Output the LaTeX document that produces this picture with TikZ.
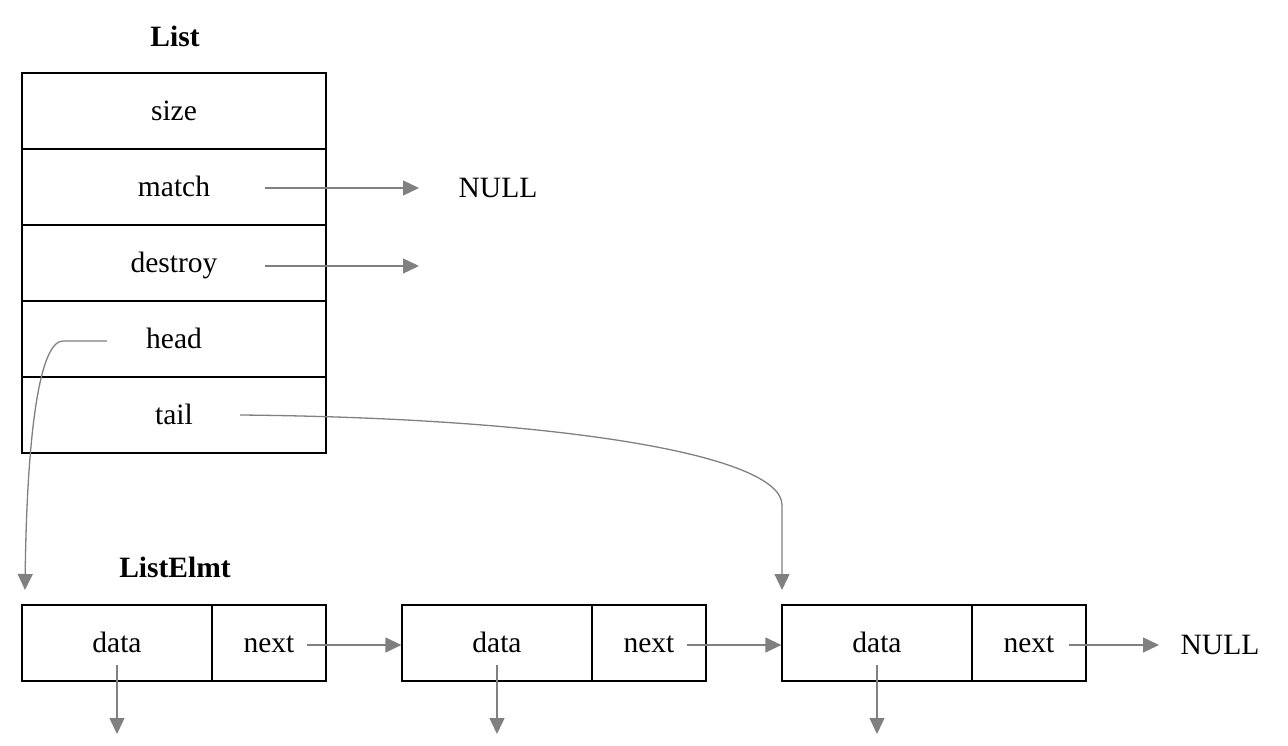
\documentclass[tikz,border=0pt]{standalone}
\usepackage{fontspec}
\setmainfont{Liberation Serif}
\usetikzlibrary{arrows.meta}
\begin{document}
\begin{tikzpicture}[x=1pt,y=-1pt,
  txt/.style={font=\fontsize{29.5}{32}\selectfont,inner sep=0pt,text height=19pt,text depth=0pt},
  ttl/.style={font=\fontsize{29.5}{32}\selectfont\bfseries,inner sep=0pt,text height=19pt,text depth=0pt},
  cell/.style={draw=black,line width=1.3pt,minimum height=76pt,inner sep=0pt,text height=19pt,text depth=0pt,font=\fontsize{29.5}{32}\selectfont},
  lcell/.style={cell,minimum width=304pt},
  dcell/.style={cell,minimum width=190pt},
  ncell/.style={cell,minimum width=114pt},
  conn/.style={draw={rgb,255:red,128;green,128;blue,128},line width=1.3pt,-{Triangle[length=16pt,width=15pt]}}]
\useasboundingbox (0,0) rectangle (1288,746);
% List structure
\node[ttl] (listT) at (175,37) {List};
\node[lcell] (size) at (174,111) {size};
\node[lcell] (match) at (174,187) {match};
\node[lcell] (destroy) at (174,263) {destroy};
\node[lcell] (head) at (174,339) {head};
\node[lcell] (tail) at (174,415) {tail};
\node[txt] (null1) at (498,188) {NULL};
% ListElmt structures
\node[ttl] (elmtT) at (175,568) {ListElmt};
\node[dcell] (d1) at (117,643) {data};
\node[ncell] (n1) at (269,643) {next};
\node[dcell] (d2) at (497,643) {data};
\node[ncell] (n2) at (649,643) {next};
\node[dcell] (d3) at (877,643) {data};
\node[ncell] (n3) at (1029,643) {next};
\node[txt] (null2) at (1220,645) {NULL};
% free ends
\coordinate (mS) at (265,188);
\coordinate (mE) at (419,188);
\coordinate (dS) at (265,266);
\coordinate (dE) at (419,266);
\coordinate (hS) at (107,341);
\coordinate (hK) at (63,341);
\coordinate (hE) at (25,590);
\coordinate (tS) at (240,415);
\coordinate (tK) at (782,505);
\coordinate (tE) at (782,590);
\coordinate (n1S) at (307,645);
\coordinate (n2S) at (687,645);
\coordinate (n3S) at (1069,645);
\coordinate (d1S) at (117,665);
\coordinate (d1E) at (117,734);
\coordinate (d2S) at (497,665);
\coordinate (d2E) at (497,734);
\coordinate (d3S) at (877,665);
\coordinate (d3E) at (877,734);
% connectors
\draw[conn] (mS) -- (mE);
\draw[conn] (dS) -- (dE);
\draw[conn] (hS) -- (hK) .. controls (40,341) and (27,430) .. (hE);
\draw[conn] (tS) .. controls (560,418) and (782,455) .. (tK) -- (tE);
\draw[conn] (n1S) -- (n1S -| d2.west);
\draw[conn] (n2S) -- (n2S -| d3.west);
\draw[conn] (n3S) -- (1159,645);
\draw[conn] (d1S) -- (d1E);
\draw[conn] (d2S) -- (d2E);
\draw[conn] (d3S) -- (d3E);
\end{tikzpicture}
\end{document}
